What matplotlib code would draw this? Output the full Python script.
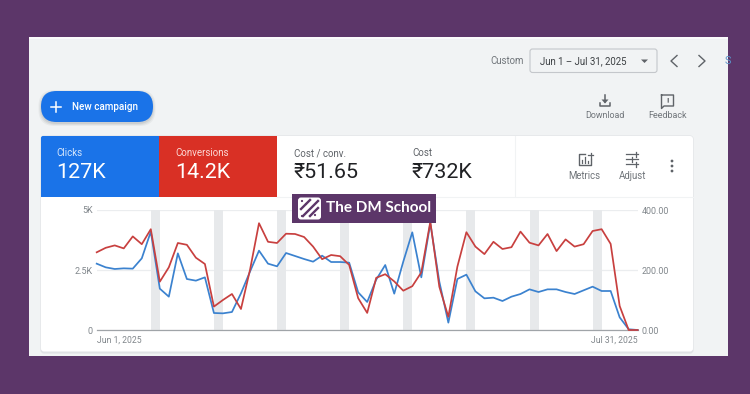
import matplotlib
matplotlib.use("Agg")
import matplotlib.pyplot as plt
from matplotlib.patches import Rectangle, FancyBboxPatch, Polygon, Circle

plt.rcParams['font.family'] = ['Roboto', 'DejaVu Sans']

clicks = [2764,2611,2542,2569,2556,2986,4097,1722,1389,3194,2125,2056,2194,708,694,750,1528,2431,3306,2764,
          2653,3208,3083,2958,2847,3097,2833,2833,2806,1569,1167,2100,2708,1514,2847,4069,2194,4444,2014,306,
          2125,2306,1611,1319,1347,1208,1389,1500,1694,1583,1694,1694,1583,1500,1653,1806,1625,1625,528,30,0]
conversions = [259,274,282,272,312,286,336,161,209,290,284,241,220,78,100,120,70,200,356,294,
               290,321,320,310,278,236,250,246,217,106,57,174,186,162,131,146,192,361,144,44,
               211,326,278,253,294,270,276,328,291,282,320,263,302,278,286,330,336,287,80,0,0]
weekend_starts = [6,13,20,27,34,41,48,55]
left_ticks = [0,2500,5000]
left_labels = ['0','2.5K','5K']
right_ticks = [0,200,400]
right_labels = ['0.00','200.00','400.00']
date_labels = ['Jun 1, 2025','Jul 31, 2025']
kpi_titles = ['Clicks','Conversions','Cost / conv.','Cost']
kpi_values = ['127K','14.2K','₹51.65','₹732K']

W,H = 750,394
PURPLE='#5C3669'; PAGE='#F1F3F4'; BLUE='#1A73E8'; RED='#D93025'
LINE_BLUE='#3B82CF'; LINE_RED='#C8403F'; GREY='#70757A'; DARK='#3C4043'

fig = plt.figure(figsize=(W/100,H/100),dpi=100,facecolor=PURPLE)
bg = fig.add_axes([0,0,1,1]); bg.set_xlim(0,W); bg.set_ylim(H,0); bg.axis('off')

def fs(px): return px*0.72

bg.add_patch(Rectangle((29,37),699,319,fc=PAGE,ec='none'))
bg.add_patch(Rectangle((29,37),699,2,fc='#FAFAFB',ec='none'))
# top controls
bg.text(490,61,'Custom',fontsize=fs(9.7),color=GREY,va='center')
bg.add_patch(FancyBboxPatch((530,49),127,23.5,boxstyle='round,pad=0,rounding_size=2.5',fc=PAGE,ec='#C4C7CB',lw=0.8))
bg.text(540,61,'Jun 1 – Jul 31, 2025',fontsize=fs(9.6),color=DARK,va='center')
bg.add_patch(Polygon([(641,59.5),(648,59.5),(644.5,63)],fc='#5F6368',ec='none'))
for pts in ([(677,55.5),(671,61),(677,66.5)],[(699,55.5),(705,61),(699,66.5)]):
    bg.plot(*zip(*pts),color='#5F6368',lw=1.0)
s = bg.text(724.5,61,'S',fontsize=fs(11),color='#5B93C9',va='center')
s.set_clip_path(Rectangle((29,37),699,319,transform=bg.transData))
# new campaign
for grow,alpha in ((3.5,.05),(2.5,.07),(1.5,.09)):
    bg.add_patch(FancyBboxPatch((41-grow+1,92.5-grow+1),112+2*grow-2,31+2*grow-2,boxstyle='round,pad=0,rounding_size=16',fc='#3C4043',ec='none',alpha=alpha))
bg.add_patch(FancyBboxPatch((41,91),112,31,boxstyle='round,pad=0,rounding_size=15.5',fc=BLUE,ec='none'))
bg.plot([51,61],[107,107],color='white',lw=1.1); bg.plot([56,56],[102,112],color='white',lw=1.1)
bg.text(72.5,107,'New campaign',fontsize=fs(9.9),color='white',va='center',fontweight='medium')
# download
bg.plot([605,605],[95,102],color='#5F6368',lw=1.1)
bg.add_patch(Polygon([(601.5,99.5),(608.5,99.5),(605,103.5)],fc='#5F6368',ec='none'))
bg.plot([600,600,610,610],[103,106,106,103],color='#5F6368',lw=1.1)
bg.text(605,115.5,'Download',fontsize=fs(8.9),color=GREY,va='center',ha='center')
# feedback
bg.plot([661.5,673.5,673.5,664,661.5,661.5],[95,95,106,106,108.5,95],color='#5F6368',lw=1.0)
bg.text(667.5,100.5,'!',fontsize=fs(8.5),color='#5F6368',va='center',ha='center',fontweight='bold')
bg.text(667.5,115.5,'Feedback',fontsize=fs(9),color=GREY,va='center',ha='center')
# card
bg.add_patch(FancyBboxPatch((41,136),652,217,boxstyle='round,pad=0,rounding_size=3',fc='#E0E2E5',ec='#E0E2E5',lw=0.8))
bg.add_patch(FancyBboxPatch((41,136),652,215.5,boxstyle='round,pad=0,rounding_size=3',fc='white',ec='none'))
bg.add_patch(FancyBboxPatch((41,136),118,61,boxstyle='round,pad=0,rounding_size=2',fc=BLUE,ec='none'))
bg.add_patch(Rectangle((60,136),99,61,fc=BLUE,ec='none'))
bg.add_patch(Rectangle((41,145),60,52,fc=BLUE,ec='none'))
bg.add_patch(Rectangle((159,136),118,61,fc=RED,ec='none'))
bg.plot([515,515],[136,196],color='#F1F3F4',lw=0.8)
bg.plot([277,693],[197,197],color='#F1F3F4',lw=0.8)
xs=[56,175,293.5,412]; cols=['#D6E6FB','#FBD9D6','#5F6368','#5F6368']; cols2=['white','white','#202124','#202124']
for x,t,v,c,c2 in zip(xs,kpi_titles,kpi_values,cols,cols2):
    bg.text(x,153,t,fontsize=fs(9.8),color=c,va='center')
    bg.text(x,172.5,v,fontsize=fs(21.5),color=c2,va='center')
# metrics icon
bg.plot([585,578.5,578.5,590.5,590.5],[154,154,165,165,159],color='#5F6368',lw=1.0)
for xx,y0 in ((581.5,160),(584.5,157),(587.5,161)):
    bg.plot([xx,xx],[y0,163],color='#5F6368',lw=0.9)
bg.plot([588,593],[155,155],color='#5F6368',lw=0.9); bg.plot([590.5,590.5],[152.5,157.5],color='#5F6368',lw=0.9)
bg.text(584.5,175.5,'Metrics',fontsize=fs(9.6),color=GREY,va='center',ha='center')
# adjust icon
for y,(a,b) in ((154,(634,637)),(159,(630,633)),(164,(634,637))):
    bg.plot([626,638],[y,y],color='#5F6368',lw=0.9)
    bg.plot([(a+b)/2]*2,[y-2.5,y+2.5],color='#5F6368',lw=0.9)
bg.text(632.5,175.5,'Adjust',fontsize=fs(9.6),color=GREY,va='center',ha='center')
for y in (161,166,171):
    bg.add_patch(Circle((672,y),1.4,fc='#5F6368',ec='none'))

# chart
x0,x1,ytop,ybot = 96.7,637.7,210,330
ax = fig.add_axes([x0/W,1-ybot/H,(x1-x0)/W,(ybot-ytop)/H],facecolor='none')
days = list(range(len(clicks)))
ax.set_xlim(0,60); ax.set_ylim(0,5000)
for d in weekend_starts:
    ax.axvspan(d,d+1,color='#E7E9EB',lw=0,zorder=1)
ax.yaxis.grid(True,color='#EBEDEF',lw=0.9,zorder=0); ax.set_axisbelow(True)
for sp in ax.spines.values(): sp.set_visible(False)
ax.spines['bottom'].set_visible(True); ax.spines['bottom'].set_color('#A0A4A8'); ax.spines['bottom'].set_linewidth(0.9)
ax.set_yticks(left_ticks,left_labels)
ax.tick_params(axis='y',length=0,pad=3,labelsize=fs(9),labelcolor='#80868B')
ax.set_xticks([0,60],date_labels)
ax.tick_params(axis='x',length=0,pad=4,labelsize=fs(8.6),labelcolor='#80868B')
tl = ax.get_xticklabels(); tl[0].set_ha('left'); tl[1].set_ha('right')
ax.plot(days,clicks,color=LINE_BLUE,lw=1.25,zorder=3,clip_on=False)
ax2 = ax.twinx(); ax2.set_ylim(0,400)
for sp in ax2.spines.values(): sp.set_visible(False)
ax2.set_yticks(right_ticks,right_labels)
ax2.tick_params(axis='y',length=0,pad=3,labelsize=fs(8.9),labelcolor='#80868B')
ax2.plot(days,conversions,color=LINE_RED,lw=1.25,zorder=4,clip_on=False)

# watermark
top = fig.add_axes([0,0,1,1],facecolor='none'); top.set_xlim(0,W); top.set_ylim(H,0); top.axis('off')
top.add_patch(Rectangle((292,194),144,28.5,fc=PURPLE,ec='none'))
top.add_patch(FancyBboxPatch((298,197.5),23,22,boxstyle='round,pad=0,rounding_size=3',fc='white',ec='none'))
for a,b in (((301,209),(310,200)),((303,216),(318,201)),((310,216),(318,208))):
    top.plot([a[0],b[0]],[a[1],b[1]],color=PURPLE,lw=1.7)
for p in ((302,201),(306,204),(315,215),(302,216)):
    top.add_patch(Circle(p,1.1,fc=PURPLE,ec='none'))
top.text(325.5,208,'The DM School',fontsize=fs(15.3),color='white',va='center',fontweight='bold',family='Lato')

fig.savefig('out.png',dpi=100,facecolor=PURPLE)
